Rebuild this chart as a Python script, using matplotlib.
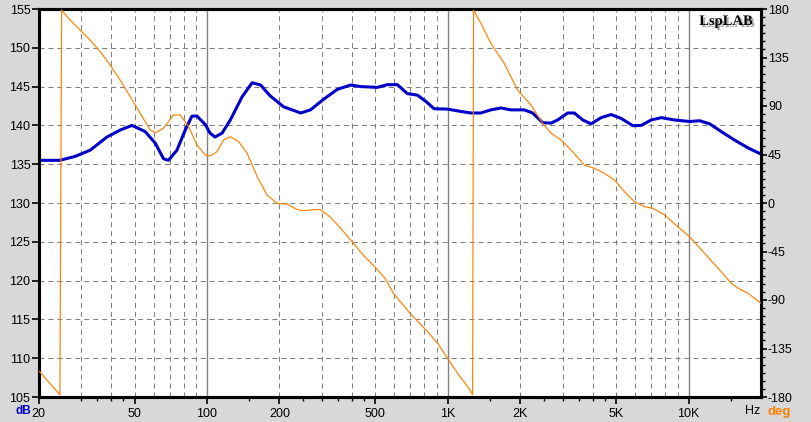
import matplotlib
matplotlib.use("Agg")
import matplotlib.pyplot as plt
import matplotlib.patheffects as pe
from matplotlib.ticker import FixedLocator, NullFormatter

# ---------------- data ----------------
freq_mag = [20, 24.5, 28.3, 32.7, 38.4, 43.6, 48.8, 55.4, 61, 66, 69.2, 75, 81.2, 86.6,
            90.9, 98.4, 103, 108, 115.5, 125, 140, 154, 167, 183, 208, 245, 269, 306,
            348, 395, 436, 510, 561, 618, 679, 748, 811, 877, 998, 1133, 1248, 1373,
            1510, 1662, 1829, 2078, 2252, 2480, 2686, 2862, 3148, 3355, 3637, 3937,
            4334, 4769, 5249, 5871, 6363, 7000, 7708, 8750, 10100, 11120, 12240,
            13680, 15550, 17670, 20000]
mag_db = [135.5, 135.5, 136.0, 136.8, 138.5, 139.4, 140.0, 139.2, 137.7, 135.7, 135.5,
          136.8, 139.4, 141.2, 141.2, 140.1, 139.0, 138.5, 139.0, 140.7, 143.7, 145.5,
          145.2, 143.8, 142.4, 141.6, 142.0, 143.4, 144.65, 145.2, 145.0, 144.9,
          145.25, 145.25, 144.1, 143.9, 143.1, 142.15, 142.1, 141.8, 141.6, 141.6,
          142.0, 142.25, 142.0, 142.0, 141.6, 140.35, 140.3, 140.7, 141.6, 141.6,
          140.7, 140.2, 141.0, 141.4, 140.9, 139.96, 140.0, 140.7, 141.0, 140.7,
          140.5, 140.6, 140.2, 139.2, 138.1, 137.1, 136.3]

freq_ph = [20, 24.2, 24.5, 24.9, 27.0, 29.7, 32.7, 36.0, 39.6, 43.6, 48.0, 52.8, 58.1,
           61, 66, 72.6, 77.4, 83.9, 90.9, 98.4, 103, 110, 117.3, 125, 135.4, 146.8,
           161.6, 177.8, 196, 215, 236, 248, 295, 324, 356, 395, 445, 500, 549, 595,
           697, 825, 908, 998, 1098, 1209, 1248, 1268, 1280, 1373, 1510, 1716, 1950,
           2216, 2480, 2686, 2954, 3250, 3693, 4064, 4473, 4924, 5419, 5964, 6563,
           7112, 7950, 9030, 10100, 11670, 13260, 15070, 16060, 17670, 20000]
phase_deg = [-155.6, -176.6, -178, 179, 169.8, 160.5, 151.2, 140.4, 128, 114, 98.6,
             83.2, 67.7, 65.2, 69.3, 81.7, 81.7, 70.8, 53.8, 44.5, 43.6, 47.6, 58.5,
             61.5, 56.9, 46.1, 24.4, 7.4, -0.6, -0.9, -5.9, -7.1, -5.9, -12.7, -22.5,
             -34.3, -48.2, -59.7, -69.9, -83.8, -102.3, -119.4, -130.2, -144.1, -158,
             -170.4, -175, -178, 179, 166.7, 148.2, 129.6, 104.8, 90.9, 73.9, 64.7,
             58.5, 49.2, 35.3, 32.2, 27.6, 21.3, 10.5, 1.2, -3.4, -4.9, -11.1, -22.0,
             -31.3, -46.7, -60.6, -74.5, -79.1, -83.8, -93]

x_major = [20, 50, 100, 200, 500, 1000, 2000, 5000, 10000]
x_labels = ["20", "50", "100", "200", "500", "1K", "2K", "5K", "10K"]
x_minor = [30, 35, 40, 45, 150, 250, 300, 350, 400, 450, 1500, 2500, 3000, 3500,
           4000, 4500, 15000]
db_ticks = [105, 110, 115, 120, 125, 130, 135, 140, 145, 150, 155]
deg_ticks = [-180, -135, -90, -45, 0, 45, 90, 135, 180]
grid_dashed_x = [30, 40, 50, 60, 70, 80, 90, 200, 300, 400, 500, 600, 700, 800, 900,
                 2000, 3000, 4000, 5000, 6000, 7000, 8000, 9000]
grid_solid_x = [100, 1000, 10000]
grid_y = [110, 115, 120, 125, 130, 135, 140, 145, 150]

# ---------------- figure ----------------
W, H = 811, 422
bg = "#D8D8D8"
fig = plt.figure(figsize=(W / 100, H / 100), dpi=100, facecolor=bg)
L, R, T, B = 38.7, 761, 9, 397
ax = fig.add_axes([L / W, (H - B) / H, (R - L) / W, (B - T) / H])
ax.set_facecolor("white")
ax.set_xscale("log")
ax.set_xlim(20, 20000)
ax.set_ylim(105, 155)

gcol = "#808080"
for gx in grid_dashed_x:
    ax.axvline(gx, color=gcol, lw=0.75, ls=(0, (4.8, 3.8)), zorder=1)
for gx in grid_solid_x:
    ax.axvline(gx, color=gcol, lw=1.0, zorder=1)
for gy in grid_y:
    ax.axhline(gy, color=gcol, lw=0.75, ls=(0, (4.8, 3.8)), zorder=1)

ax.plot(freq_mag, mag_db, color="#0000C8", lw=2.2, zorder=3, solid_capstyle="butt")

ax.xaxis.set_major_locator(FixedLocator(x_major))
ax.set_xticklabels(x_labels)
ax.xaxis.set_minor_locator(FixedLocator(x_minor))
ax.xaxis.set_minor_formatter(NullFormatter())
ax.set_yticks(db_ticks)
ax.set_yticklabels([str(v) for v in db_ticks])
ax.yaxis.set_minor_locator(FixedLocator([]))

font = "Liberation Sans"
ax.tick_params(axis="x", which="major", direction="out", length=5, width=1.2,
               pad=3, labelsize=9)
ax.tick_params(axis="x", which="minor", direction="out", length=3, width=1.0)
ax.tick_params(axis="y", which="major", direction="out", length=5, width=1.2,
               pad=1, labelsize=9)
for lab in ax.get_xticklabels() + ax.get_yticklabels():
    lab.set_fontfamily(font)

for s in ax.spines.values():
    s.set_linewidth(2.2)
    s.set_color("black")

ax2 = ax.twinx()
ax2.set_ylim(-180, 180)
ax2.plot(freq_ph, phase_deg, color="#FF8000", lw=0.85, zorder=4)
ax2.set_yticks(deg_ticks)
ax2.set_yticklabels([str(v) for v in deg_ticks])
ax2.yaxis.set_minor_locator(FixedLocator([v * 7.5 - 180 for v in range(49)]))
ax2.tick_params(axis="y", which="major", direction="out", length=4, width=1.2,
                pad=1, labelsize=9)
ax2.tick_params(axis="y", which="minor", direction="out", length=3, width=1.0)
for lab in ax2.get_yticklabels():
    lab.set_fontfamily(font)
for s in ax2.spines.values():
    s.set_linewidth(2.2)
    s.set_color("black")

# axis unit labels
def ftext(x, y, s, **kw):
    return fig.text(x / W, 1 - y / H, s, **kw)

ftext(23, 411.5, "dB", color="#0000C8", fontsize=8.5, fontweight="bold",
      family=font, ha="center", va="center")
ftext(779, 411.5, "deg", color="#FF8000", fontsize=9.5, fontweight="bold",
      family=font, ha="center", va="center")
ftext(753, 411.5, "Hz", color="black", fontsize=9, family=font,
      ha="center", va="center")

# logo with drop shadow
ftext(753, 21.5, "LspLAB", color="black", fontsize=10.5, fontweight="bold",
      family="Liberation Serif", ha="right", va="center", zorder=11,
      path_effects=[pe.withSimplePatchShadow(offset=(1.5, -1.5),
                                             shadow_rgbFace="#A8A8A8", alpha=1.0)])

fig.savefig("out.png", dpi=100, facecolor=bg)
